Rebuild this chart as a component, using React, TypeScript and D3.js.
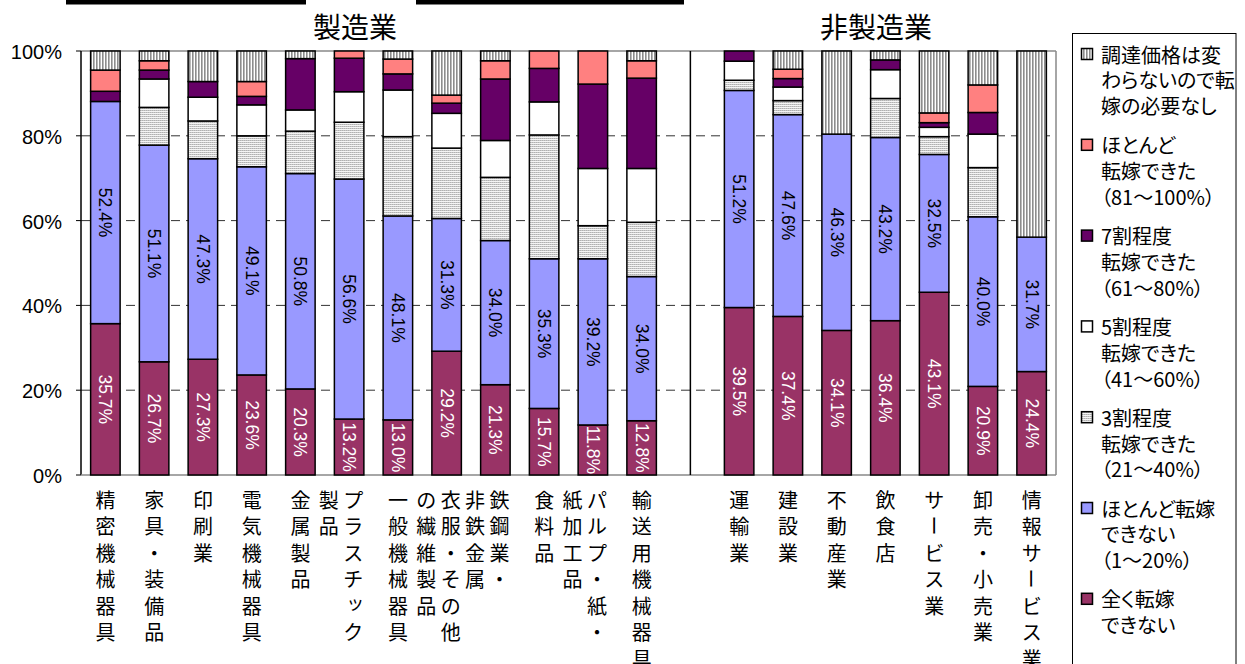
import React from "react";
import * as d3 from "d3";

// Industries (vertical labels: "\n" separates columns, written right-to-left)
const manufacturing = [
  "精密機械器具",
  "家具・装備品",
  "印刷業",
  "電気機械器具",
  "金属製品",
  "プラスチック\n製品",
  "一般機械器具",
  "衣服・その他\nの繊維製品",
  "鉄鋼業・\n非鉄金属",
  "食料品",
  "パルプ・紙・\n紙加工品",
  "輸送用機械器具",
];
const nonManufacturing = [
  "運輸業",
  "建設業",
  "不動産業",
  "飲食店",
  "サービス業",
  "卸売・小売業",
  "情報サービス業",
];

// Shares (%) per industry, stacked bottom to top
const noPassThrough = [35.7, 26.7, 27.3, 23.6, 20.3, 13.2, 13.0, 29.2, 21.3, 15.7, 11.8, 12.8, 39.5, 37.4, 34.1, 36.4, 43.1, 20.9, 24.4];
const barelyPassed = [52.4, 51.1, 47.3, 49.1, 50.8, 56.6, 48.1, 31.3, 34.0, 35.3, 39.2, 34.0, 51.2, 47.6, 46.3, 43.2, 32.5, 40.0, 31.7];
const passed30 = [0, 8.9, 8.9, 7.3, 10.0, 13.4, 18.7, 16.6, 14.9, 29.2, 7.8, 12.8, 2.4, 3.3, 0, 9.2, 4.2, 11.6, 0];
const passed50 = [0, 6.7, 5.6, 7.3, 5.0, 7.2, 11.0, 8.2, 8.7, 7.8, 13.5, 12.7, 4.5, 3.2, 0, 6.8, 2.2, 7.9, 0];
const passed70 = [2.4, 2.1, 3.7, 2.0, 12.1, 7.9, 3.8, 2.4, 14.5, 7.9, 19.9, 21.3, 2.4, 2.0, 0, 2.3, 1.1, 5.1, 0];
const mostlyPassed = [5.0, 2.2, 0, 3.5, 0, 1.7, 3.5, 1.9, 4.3, 4.1, 7.8, 4.1, 0, 2.2, 0, 0, 2.3, 6.5, 0];
const noNeed = [4.5, 2.3, 7.2, 7.2, 1.8, 0, 1.9, 10.4, 2.3, 0, 0, 2.3, 0, 4.3, 19.6, 2.1, 14.6, 8.0, 43.9];

const yTicks = [0, 20, 40, 60, 80, 100];

const seriesKeys = ["none", "barely", "p30", "p50", "p70", "mostly", "noneed"];
const seriesValues = [noPassThrough, barelyPassed, passed30, passed50, passed70, mostlyPassed, noNeed];
const seriesFill: Record<string, string> = {
  none: "#993366",
  barely: "#9999FF",
  p30: "url(#pat-dots)",
  p50: "#FFFFFF",
  p70: "#660066",
  mostly: "#FF8080",
  noneed: "url(#pat-vlines)",
};

// Legend, top to bottom
const legendItems = [
  { key: "noneed", lines: ["調達価格は変", "わらないので転", "嫁の必要なし"] },
  { key: "mostly", lines: ["ほとんど", "転嫁できた", "（81～100%）"] },
  { key: "p70", lines: ["7割程度", "転嫁できた", "（61～80%）"] },
  { key: "p50", lines: ["5割程度", "転嫁できた", "（41～60%）"] },
  { key: "p30", lines: ["3割程度", "転嫁できた", "（21～40%）"] },
  { key: "barely", lines: ["ほとんど転嫁", "できない", "（1～20%）"] },
  { key: "none", lines: ["全く転嫁", "できない"] },
];

const W = 1245;
const H = 664;
const PLOT = { left: 81, right: 1056, top: 51, bottom: 475 };
const SEP = "__sep__";
const JP = "'Noto Sans CJK JP', 'Noto Sans', sans-serif";
const NUM = "'Liberation Sans', Arial, sans-serif";

export default function App() {
  const allCats = [...manufacturing, ...nonManufacturing];
  const domain = [...manufacturing, SEP, ...nonManufacturing];

  const x = d3
    .scaleBand<string>()
    .domain(domain)
    .range([PLOT.left, PLOT.right])
    .paddingInner(0.395)
    .paddingOuter(0.1975);
  const y = d3.scaleLinear().domain([0, 100]).range([PLOT.bottom, PLOT.top]);
  const bw = x.bandwidth();

  const rows = allCats.map((cat, i) => {
    const r: Record<string, any> = { cat };
    seriesKeys.forEach((k, s) => (r[k] = seriesValues[s][i]));
    return r;
  });
  const stacked = d3.stack<Record<string, any>>().keys(seriesKeys)(rows);

  const sepX = (x(SEP) as number) + bw / 2;

  return (
    <svg
      width={W}
      height={H}
      viewBox={`0 0 ${W} ${H}`}
      style={{ position: "absolute", left: 0, top: 0, background: "#fff" }}
    >
      <defs>
        <pattern id="pat-vlines" width="3" height="3" patternUnits="userSpaceOnUse">
          <rect width="3" height="3" fill="#fff" />
          <rect x="0" y="0" width="1.6" height="3" fill="#8c8c8c" />
        </pattern>
        <pattern id="pat-dots" width="2" height="2" patternUnits="userSpaceOnUse">
          <rect width="2" height="2" fill="#f4f4f4" />
          <rect x="0" y="0" width="2" height="1" fill="#c8c8c8" />
          <rect x="0" y="0" width="1" height="1" fill="#b0b0b0" />
        </pattern>
      </defs>

      <rect x={0} y={0} width={W} height={H} fill="#fff" />

      {/* heading rule */}
      <rect x={66} y={0} width={240} height={4.5} fill="#000" />
      <rect x={416} y={0} width={268} height={4.5} fill="#000" />

      {/* group titles */}
      <text x={355} y={26} fontFamily={JP} fontSize={28} textAnchor="middle" dominantBaseline="central">
        製造業
      </text>
      <text x={876} y={26} fontFamily={JP} fontSize={28} textAnchor="middle" dominantBaseline="central">
        非製造業
      </text>

      {/* plot frame */}
      <line x1={PLOT.left} x2={PLOT.right} y1={PLOT.top} y2={PLOT.top} stroke="#888" strokeWidth={1.5} />
      <line x1={PLOT.right} x2={PLOT.right} y1={PLOT.top} y2={PLOT.bottom} stroke="#888" strokeWidth={1.5} />

      {/* gridlines */}
      {yTicks
        .filter((t) => t > 0 && t < 100)
        .map((t) => (
          <line
            key={t}
            x1={PLOT.left}
            x2={PLOT.right}
            y1={y(t)}
            y2={y(t)}
            stroke="#333"
            strokeWidth={1}
            strokeDasharray="9,6"
          />
        ))}

      {/* y axis */}
      <line x1={PLOT.left} x2={PLOT.left} y1={PLOT.top} y2={PLOT.bottom} stroke="#000" strokeWidth={1.5} />
      {yTicks.map((t) => (
        <g key={t}>
          <line x1={PLOT.left - 5} x2={PLOT.left} y1={y(t)} y2={y(t)} stroke="#000" strokeWidth={1} />
          <text
            x={62}
            y={y(t) + 1}
            fontFamily={NUM}
            fontSize={20}
            textAnchor="end"
            dominantBaseline="central"
          >
            {`${t}%`}
          </text>
        </g>
      ))}

      {/* bottom axis */}
      <line x1={PLOT.left} x2={PLOT.right} y1={PLOT.bottom} y2={PLOT.bottom} stroke="#888" strokeWidth={1.5} />

      {/* group separator */}
      <line x1={sepX} x2={sepX} y1={PLOT.top} y2={PLOT.bottom} stroke="#000" strokeWidth={1.5} />

      {/* stacked bars */}
      {stacked.map((layer) => (
        <g key={layer.key}>
          {layer.map((d, i) => {
            const v = d[1] - d[0];
            if (v <= 0) return null;
            const cat = allCats[i];
            const x0 = x(cat) as number;
            return (
              <rect
                key={cat}
                x={x0}
                y={y(d[1])}
                width={bw}
                height={y(d[0]) - y(d[1])}
                fill={seriesFill[layer.key]}
                stroke="#000"
                strokeWidth={1.5}
              />
            );
          })}
        </g>
      ))}

      {/* value labels in the two lowest segments */}
      {stacked.slice(0, 2).map((layer, li) => (
        <g key={`lbl-${layer.key}`}>
          {layer.map((d, i) => {
            const v = seriesValues[li][i];
            const cat = allCats[i];
            const cx = (x(cat) as number) + bw / 2;
            const cy = (y(d[0]) + y(d[1])) / 2;
            return (
              <text
                key={cat}
                transform={`translate(${cx},${cy}) rotate(90)`}
                fontFamily={NUM}
                fontSize={17.5}
                textAnchor="middle"
                dominantBaseline="central"
                fill={li === 0 ? "#fff" : "#000"}
              >
                {`${v.toFixed(1)}%`}
              </text>
            );
          })}
        </g>
      ))}

      {/* vertical category labels */}
      {[...manufacturing, ...nonManufacturing].map((label, i) => {
        const cat = allCats[i];
        const center = (x(cat) as number) + bw / 2;
        const cols = label.split("\n");
        return (
          <g key={`cat-${cat}`}>
            {cols.map((col, ci) => {
              const cx = cols.length === 1 ? center : ci === 0 ? center + 4 : center - 20.5;
              return Array.from(col).map((ch, k) => {
                const cy = 499 + k * 26.5;
                if (ch === "ー") {
                  return (
                    <text
                      key={`${ci}-${k}`}
                      transform={`translate(${cx},${cy}) rotate(90)`}
                      fontFamily={JP}
                      fontSize={20}
                      textAnchor="middle"
                      dominantBaseline="central"
                    >
                      {ch}
                    </text>
                  );
                }
                const small = ch === "ッ";
                return (
                  <text
                    key={`${ci}-${k}`}
                    x={cx + (small ? 2 : 0)}
                    y={cy - (small ? 3 : 0)}
                    fontFamily={JP}
                    fontSize={small ? 18 : 20}
                    textAnchor="middle"
                    dominantBaseline="central"
                  >
                    {ch}
                  </text>
                );
              });
            })}
          </g>
        );
      })}

      {/* legend */}
      <rect x={1072.5} y={33.5} width={163.5} height={660} fill="#fff" stroke="#000" strokeWidth={1} />
      {legendItems.map((item, i) => {
        const top = 54 + i * 90.8;
        return (
          <g key={item.key}>
            <rect
              x={1081.5}
              y={top - 5.5}
              width={11}
              height={11}
              fill={seriesFill[item.key]}
              stroke="#000"
              strokeWidth={1.5}
            />
            {item.lines.map((ln, j) => (
              <text
                key={j}
                x={1101}
                y={top + j * 25.8}
                fontFamily={JP}
                fontSize={20}
                dominantBaseline="central"
                style={{ fontFeatureSettings: '"palt" 1' }}
              >
                {ln}
              </text>
            ))}
          </g>
        );
      })}
    </svg>
  );
}
